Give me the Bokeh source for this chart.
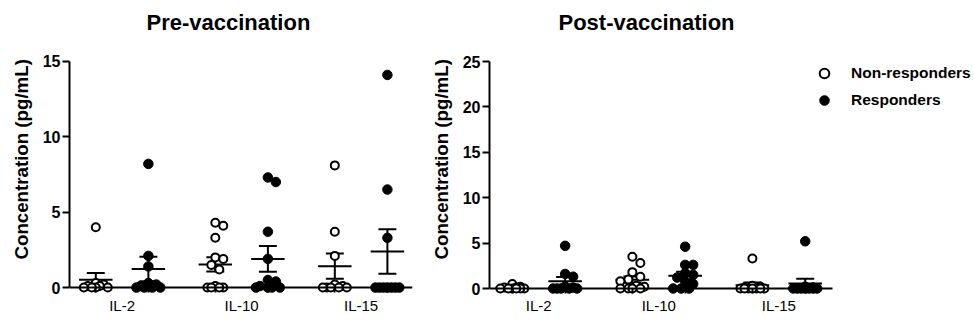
import numpy as np
from bokeh.plotting import figure
from bokeh.layouts import row
from bokeh.models import (Range1d, FixedTicker, Legend, LegendItem, ColumnDataSource, Title,
                          LinearAxis)
from bokeh.embed import file_html
from bokeh.resources import INLINE

cytokines = ["IL-2", "IL-10", "IL-15"]
groups = ["Non-responders", "Responders"]

# Pre-vaccination (pg/mL)
pre_nr_il2 = [4.0, 0.3, 0.2, 0.1, 0.1, 0.0, 0.0, 0.0, 0.0]
pre_r_il2 = [8.2, 2.1, 1.4, 0.3, 0.2, 0.1, 0.0, 0.0, 0.0, 0.0]
pre_nr_il10 = [4.3, 4.1, 3.3, 2.0, 1.9, 1.5, 1.2, 0.1, 0.0, 0.0, 0.0, 0.0]
pre_r_il10 = [7.3, 7.0, 3.7, 1.9, 0.5, 0.4, 0.1, 0.0, 0.0, 0.0, 0.0]
pre_nr_il15 = [8.1, 3.7, 2.1, 0.2, 0.1, 0.0, 0.0, 0.0, 0.0, 0.0]
pre_r_il15 = [14.1, 6.5, 3.3, 0.0, 0.0, 0.0, 0.0, 0.0, 0.0, 0.0]

# Post-vaccination (pg/mL)
post_nr_il2 = [0.5, 0.2, 0.1, 0.1, 0.0, 0.0, 0.0, 0.0, 0.0, 0.0]
post_r_il2 = [4.7, 1.6, 1.3, 0.2, 0.1, 0.0, 0.0, 0.0, 0.0, 0.0]
post_nr_il10 = [3.5, 2.8, 1.8, 1.3, 1.0, 0.8, 0.3, 0.2, 0.0, 0.0, 0.0, 0.0]
post_r_il10 = [4.6, 2.6, 2.6, 1.7, 1.5, 1.2, 0.8, 0.5, 0.0, 0.0, 0.0]
post_nr_il15 = [3.3, 0.3, 0.2, 0.1, 0.0, 0.0, 0.0, 0.0, 0.0, 0.0, 0.0]
post_r_il15 = [5.2, 0.2, 0.1, 0.0, 0.0, 0.0, 0.0, 0.0, 0.0, 0.0]

pre_ticks = [0, 5, 10, 15]
post_ticks = [0, 5, 10, 15, 20, 25]

FONT = "Liberation Sans"
PAIR_OFF = 0.22
MEAN_HALF = 0.14
CAP_HALF = 0.075

HEIGHT = 327
FRAME_TOP = 42      # px, top of plotting frame
AXIS_TOP = 61       # px, where the y axis maximum sits


def swarm(vals, ypx, D=8.0, step=4.0, limit=14.0):
    """Spread overlapping points sideways within a limited width (returns px offsets)."""
    vals = np.asarray(vals, float)
    order = np.argsort(-vals, kind="stable")
    offs = np.zeros(len(vals))
    placed = []
    cands = [0.0]
    k = 1
    while k * step <= limit + 1e-9:
        cands += [k * step, -k * step]
        k += 1
    for i in order:
        best_c, best_d = 0.0, -1.0
        chosen = None
        for c in cands:
            dmin = 1e9
            for j in placed:
                dx = c - offs[j]
                dy = (vals[i] - vals[j]) * ypx
                dmin = min(dmin, (dx * dx + dy * dy) ** 0.5)
            if dmin >= D * 0.999:
                chosen = c
                break
            if dmin > best_d + 1e-9:
                best_c, best_d = c, dmin
        offs[i] = chosen if chosen is not None else best_c
        placed.append(i)
    return offs


def make_panel(title, nr_sets, r_sets, ymax, ticks, zero_px, bottom_px, xr, axis_end,
               width, mb_right, title_off, with_legend):
    ypx = (zero_px - AXIS_TOP) / ymax
    ymin = -(bottom_px - zero_px) / ypx
    ytop = ymax + (AXIS_TOP - FRAME_TOP) / ypx
    p = figure(width=width, height=HEIGHT, x_range=Range1d(*xr), y_range=Range1d(ymin, ytop),
               output_backend="svg", toolbar_location=None,
               min_border_left=68, min_border_right=mb_right, min_border_top=FRAME_TOP,
               min_border_bottom=HEIGHT - bottom_px)
    p.xgrid.visible = False
    p.ygrid.visible = False
    p.outline_line_color = None
    p.background_fill_color = "white"

    xpx = (width - 68 - mb_right) / (xr[1] - xr[0])

    rend = {}
    for gi, sets in enumerate([nr_sets, r_sets]):
        xs, ys = [], []
        for ci, vals in enumerate(sets):
            center = ci + 1 + (-PAIR_OFF if gi == 0 else PAIR_OFF)
            offs = swarm(vals, ypx)
            xs += list(center + offs / xpx)
            ys += list(vals)
            arr = np.asarray(vals, float)
            m = arr.mean()
            sem = arr.std(ddof=1) / np.sqrt(len(arr))
            p.segment(x0=[center - MEAN_HALF], y0=[m], x1=[center + MEAN_HALF], y1=[m],
                      line_color="black", line_width=2)
            p.segment(x0=[center], y0=[max(m - sem, 0)], x1=[center], y1=[m + sem],
                      line_color="black", line_width=2)
            for yy in (m - sem, m + sem):
                p.segment(x0=[center - CAP_HALF], y0=[yy], x1=[center + CAP_HALF], y1=[yy],
                          line_color="black", line_width=2)
        src = ColumnDataSource(dict(x=xs, y=ys))
        if gi == 0:
            r = p.scatter("x", "y", source=src, marker="circle", size=8, fill_color="white",
                          line_color="black", line_width=2)
        else:
            r = p.scatter("x", "y", source=src, marker="circle", size=9.5, fill_color="black",
                          line_color="black", line_width=1)
        rend[gi] = r

    # category labels axis (at frame bottom, no line)
    xa = p.xaxis[0]
    xa.ticker = FixedTicker(ticks=[1, 2, 3])
    xa.major_label_overrides = {1: cytokines[0], 2: cytokines[1], 3: cytokines[2]}
    xa.axis_line_color = None
    xa.major_tick_line_color = None
    xa.minor_tick_line_color = None
    xa.major_tick_out = 0
    xa.major_tick_in = 0
    xa.minor_tick_out = 0
    xa.minor_tick_in = 0
    xa.major_label_standoff = 2
    xa.major_label_text_font = FONT
    xa.major_label_text_font_size = "15px"
    xa.major_label_text_color = "black"

    # x axis line at y = 0 with ticks at each column
    cols = []
    for c in (1, 2, 3):
        cols += [c - PAIR_OFF, c + PAIR_OFF]
    la = LinearAxis(fixed_location=0, bounds=(xr[0], axis_end), ticker=FixedTicker(ticks=cols),
                    major_tick_out=5, major_tick_in=0, major_tick_line_width=2,
                    minor_tick_line_color=None, axis_line_width=2,
                    major_label_overrides={c: "" for c in cols},
                    major_label_text_font_size="1px", major_label_standoff=0)
    p.add_layout(la, "below")

    ya = p.yaxis[0]
    ya.ticker = FixedTicker(ticks=ticks)
    ya.bounds = (0, ymax)
    ya.major_tick_out = 7
    ya.major_tick_in = 0
    ya.major_tick_line_width = 2
    ya.minor_tick_line_color = None
    ya.axis_line_width = 2
    ya.major_label_standoff = 2
    ya.major_label_text_font = FONT
    ya.major_label_text_font_style = "bold"
    ya.major_label_text_font_size = "16px"
    ya.major_label_text_color = "black"

    ylab = Title(text="Concentration (pg/mL)", align="left", offset=35,
                 text_font=FONT, text_font_style="bold", text_font_size="18.7px",
                 text_color="black", standoff=16)
    p.add_layout(ylab, "left")

    p.title.text = title
    p.title.align = "left"
    p.title.vertical_align = "middle"
    p.title.offset = title_off
    p.title.text_font = FONT
    p.title.text_font_style = "bold"
    p.title.text_font_size = "22px"
    p.title.text_color = "black"
    p.title.standoff = 14

    if with_legend:
        legend = Legend(items=[LegendItem(label=groups[0], renderers=[rend[0]]),
                               LegendItem(label=groups[1], renderers=[rend[1]])],
                        location=(323, bottom_px - 112), padding=0, margin=0, spacing=3,
                        glyph_width=24, glyph_height=24, label_standoff=15,
                        label_text_font=FONT, label_text_font_style="bold",
                        label_text_font_size="15.5px", label_text_color="black",
                        border_line_color=None, background_fill_alpha=0)
        p.add_layout(legend, "center")
    return p


p1 = make_panel("Pre-vaccination",
                [pre_nr_il2, pre_nr_il10, pre_nr_il15],
                [pre_r_il2, pre_r_il10, pre_r_il15],
                15, pre_ticks, 289, 296, (0.56, 3.43), 3.43, 420, 8, 77, False)
p2 = make_panel("Post-vaccination",
                [post_nr_il2, post_nr_il10, post_nr_il15],
                [post_r_il2, post_r_il10, post_r_il15],
                25, post_ticks, 288, 294, (0.59, 4.63), 3.45, 554, 0, 69, True)

layout = row(p1, p2)
open("out.html", "w").write(file_html(layout, INLINE))
